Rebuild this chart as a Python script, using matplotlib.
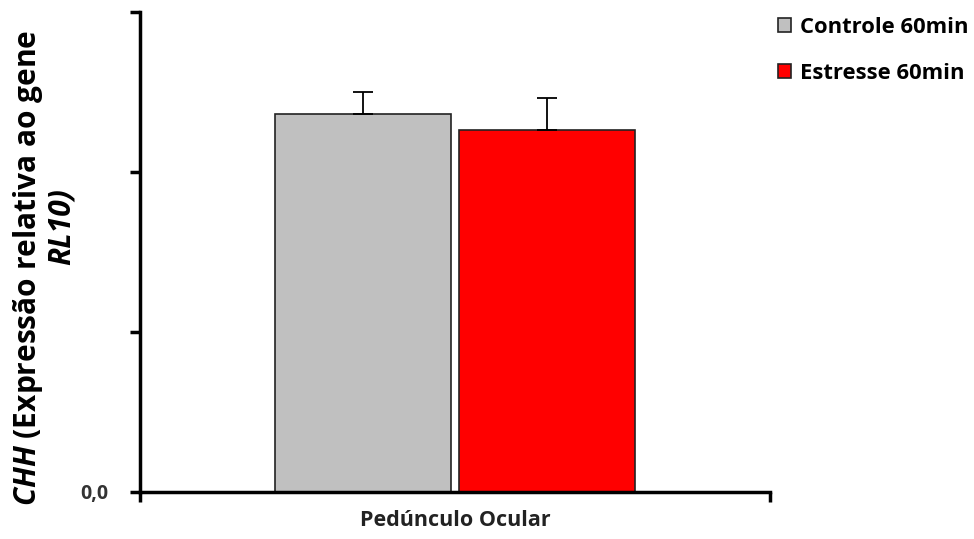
import matplotlib
matplotlib.use("Agg")
import matplotlib.pyplot as plt

plt.rcParams["font.family"] = ["Open Sans", "DejaVu Sans"]
plt.rcParams["mathtext.fontset"] = "custom"
plt.rcParams["mathtext.it"] = "Open Sans:italic:bold"
plt.rcParams["mathtext.rm"] = "Open Sans:bold"

groups = ["Controle 60min", "Estresse 60min"]
values = [1.182, 1.132]
errors = [0.069, 0.100]
colors = ["#c0c0c0", "#ff0000"]
offsets = [-0.146, 0.146]
yticks = [0.0, 0.5, 1.0, 1.5]
ytick_labels = ["0,0", "", "", ""]

fig = plt.figure(figsize=(9.74, 5.39), dpi=100)
ax = fig.add_axes([140 / 974, 1 - 492 / 539, 630 / 974, 480 / 539])

for g, v, e, c, o in zip(groups, values, errors, colors, offsets):
    ax.bar(o, v, 0.279, color=c, edgecolor="#222222", linewidth=1.2, label=g,
           yerr=[[0], [e]], error_kw=dict(ecolor="black", elinewidth=1.3,
                                         capsize=7, capthick=1.3))

ax.set_xlim(-0.5, 0.5)
ax.set_ylim(0, 1.5)
ax.set_yticks(yticks)
ax.set_yticklabels(ytick_labels, fontsize=14, fontweight="bold", color="#333333")
ax.set_xticks([-0.5, 0.5])
ax.set_xticklabels(["", ""])
ax.tick_params(axis="both", direction="out", length=7, width=2.5)
ax.tick_params(axis="y", pad=16)
ax.spines["top"].set_visible(False)
ax.spines["right"].set_visible(False)
ax.spines["left"].set_linewidth(2.5)
ax.spines["bottom"].set_linewidth(2.5)

fig.text(455 / 974, 1 - 521 / 539, "Pedúnculo Ocular", ha="center", va="center",
         fontsize=15.5, fontweight="bold", color="#222222")

fig.text(28 / 974, 1 - 268 / 539, r"$\mathit{CHH}$ (Expressão relativa ao gene",
         rotation=90, ha="center", va="center", fontsize=21.5, fontweight="bold")
fig.text(62 / 974, 1 - 227 / 539, "RL10)", style="italic",
         rotation=90, ha="center", va="center", fontsize=21.5, fontweight="bold")

ax.legend(loc="upper left", bbox_to_anchor=(758 / 974, 1 + 3 / 539),
          bbox_transform=fig.transFigure, frameon=False,
          prop=dict(weight="bold", size=15.8), handlelength=0.6, handleheight=0.6,
          handletextpad=0.4, labelspacing=1.15)

fig.savefig("out.png", dpi=100)
